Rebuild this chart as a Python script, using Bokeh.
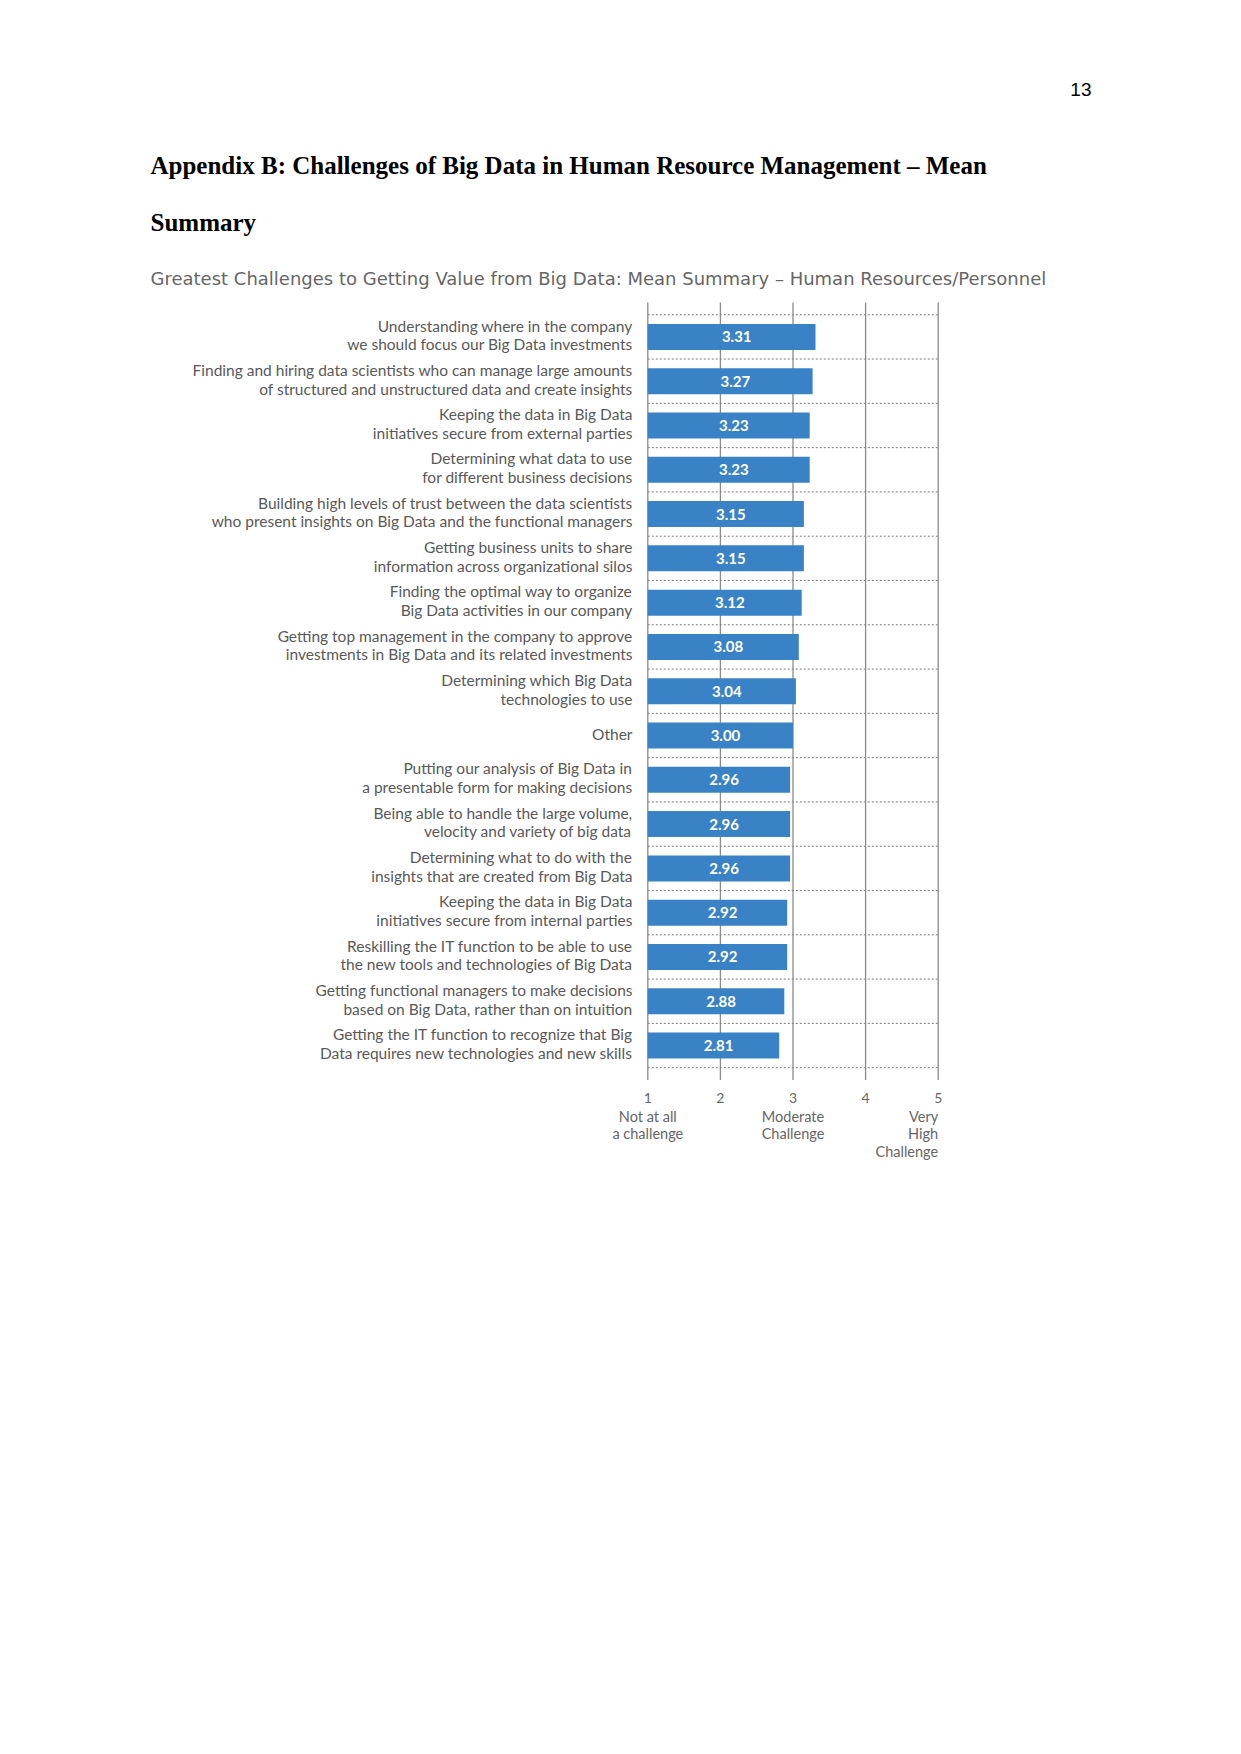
import numpy as np
from bokeh.plotting import figure
from bokeh.models import Range1d, ColumnDataSource
from bokeh.core.properties import value
from bokeh.embed import file_html
from bokeh.resources import INLINE

# ---------------- data ----------------
categories = [
    "Understanding where in the company\nwe should focus our Big Data investments",
    "Finding and hiring data scientists who can manage large amounts\nof structured and unstructured data and create insights",
    "Keeping the data in Big Data\ninitiatives secure from external parties",
    "Determining what data to use\nfor different business decisions",
    "Building high levels of trust between the data scientists\nwho present insights on Big Data and the functional managers",
    "Getting business units to share\ninformation across organizational silos",
    "Finding the optimal way to organize\nBig Data activities in our company",
    "Getting top management in the company to approve\ninvestments in Big Data and its related investments",
    "Determining which Big Data\ntechnologies to use",
    "Other",
    "Putting our analysis of Big Data in\na presentable form for making decisions",
    "Being able to handle the large volume,\nvelocity and variety of big data",
    "Determining what to do with the\ninsights that are created from Big Data",
    "Keeping the data in Big Data\ninitiatives secure from internal parties",
    "Reskilling the IT function to be able to use\nthe new tools and technologies of Big Data",
    "Getting functional managers to make decisions\nbased on Big Data, rather than on intuition",
    "Getting the IT function to recognize that Big\nData requires new technologies and new skills",
]
means = [3.31, 3.27, 3.23, 3.23, 3.15, 3.15, 3.12, 3.08, 3.04, 3.00,
         2.96, 2.96, 2.96, 2.92, 2.92, 2.88, 2.81]
mean_labels = ["%.2f" % m for m in means]
ticks = [1, 2, 3, 4, 5]
tick_labels = ["1", "2", "3", "4", "5"]
anchor_ticks = [1, 3, 5]
anchor_labels = ["Not at all\na challenge", "Moderate\nChallenge", "Very\nHigh\nChallenge"]
anchor_align = ["center", "center", "right"]

heading1 = "Appendix B: Challenges of Big Data in Human Resource Management \u2013 Mean"
heading2 = "Summary"
chart_title = "Greatest Challenges to Getting Value from Big Data: Mean Summary \u2013 Human Resources/Personnel"
page_number = "13"

# ---------------- layout (page pixels) ----------------
W, H = 1225, 1250
ORG = 0.0
X1_PX, X5_PX = 647.3, 937.7
ROW0_PX, ROW_H = 336.4, 44.29
unit = (X5_PX - X1_PX) / 4.0
x_start = 1 - (X1_PX - ORG) / unit
x_end = x_start + W / unit
y_top = -(ROW0_PX - ORG) / ROW_H
y_bot = y_top + H / ROW_H


def X(px):
    return x_start + (px - ORG) / unit


def Y(py):
    return y_top + (py - ORG) / ROW_H


p = figure(width=W, height=H, x_range=Range1d(x_start, x_end),
           y_range=Range1d(y_bot, y_top), output_backend="svg",
           toolbar_location=None, min_border=0,
           x_axis_location=None, y_axis_location=None)
p.grid.visible = False
p.outline_line_color = None
p.background_fill_color = "white"
p.border_fill_color = "white"

n = len(categories)
rows = np.arange(n)
bounds = np.arange(n + 1) - 0.5

BLUE = "#3a82c6"
LABEL_FONT = value("Lato")

# dotted row separators
p.segment(x0=[ticks[0]] * len(bounds), x1=[ticks[-1]] * len(bounds),
          y0=bounds, y1=bounds, line_color="#7a7a7a", line_width=1,
          line_dash="2 2")
# vertical grid lines
p.segment(x0=ticks, x1=ticks, y0=[Y(302)] * len(ticks), y1=[Y(1079.5)] * len(ticks),
          line_color="#8a8a8a", line_width=1.3)

# bars
src = ColumnDataSource(dict(y=rows, left=[1] * n, right=means,
                            cat=categories, lab=mean_labels,
                            lx=[(1 + m) / 2 + 0.07 for m in means]))
p.hbar(y="y", left="left", right="right", height=26 / ROW_H, source=src,
       fill_color=BLUE, line_color=None)

# value labels
p.text(x="lx", y="y", text="lab", source=src, text_align="center",
       text_baseline="middle", text_color="white", text_font=LABEL_FONT,
       text_font_size="15px", text_font_style="bold")

# category labels
p.text(x=X(632), y="y", text="cat", source=src, text_align="right",
       text_baseline="middle", text_color="#595959", text_font=LABEL_FONT,
       text_font_size="15.5px", text_line_height=1.04, y_offset=-2)

# tick labels
p.text(x=ticks, y=[Y(1097.7)] * len(ticks), text=tick_labels, text_align="center",
       text_baseline="middle", text_color="#666666", text_font=LABEL_FONT,
       text_font_size="14px")
asrc = ColumnDataSource(dict(x=anchor_ticks, y=[Y(1107)] * 3, t=anchor_labels,
                             a=anchor_align))
p.text(x="x", y="y", text="t", text_align="a", source=asrc, text_baseline="top",
       text_color="#666666", text_font=LABEL_FONT, text_font_size="14.5px",
       text_line_height=1.05)

# page headings
p.text(x=[X(1091)], y=[Y(89)], text=[page_number], text_align="right",
       text_baseline="middle", text_color="#000000",
       text_font=value("Liberation Sans"), text_font_size="19px")
p.text(x=[X(150), X(150)], y=[Y(164.5), Y(221.6)], text=[heading1, heading2],
       text_align="left", text_baseline="middle", text_color="#000000",
       text_font=value("Liberation Serif"), text_font_style="bold",
       text_font_size="25px")
p.text(x=[X(150)], y=[Y(277.5)], text=[chart_title], text_align="left",
       text_baseline="middle", text_color="#666666",
       text_font=value("DejaVu Sans"), text_font_size="18px")

open("out.html", "w").write(file_html(p, INLINE))
